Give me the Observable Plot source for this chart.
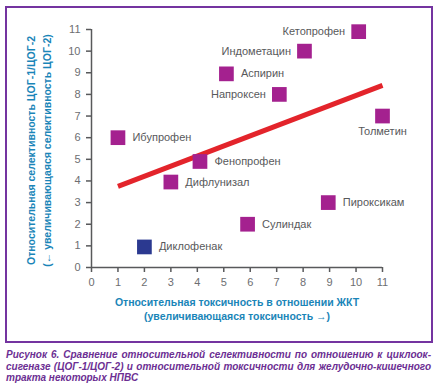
<!DOCTYPE html>
<html>
<head>
<meta charset="utf-8">
<script src="https://cdn.jsdelivr.net/npm/d3@7"></script>
<script src="https://cdn.jsdelivr.net/npm/@observablehq/plot@0.6"></script>
<style>
  html, body { margin: 0; padding: 0; background: #fff; }
  body { position: relative; width: 438px; height: 389px; overflow: hidden; font-family: "Liberation Sans", Arial, sans-serif; }
  #chart { position: absolute; left: 0; top: 0; }
  #frame { position: absolute; left: 5px; top: 6px; width: 424px; height: 333px; border: 2px solid #7434a0; pointer-events: none; }
  #caption { position: absolute; left: 6px; top: 349px; width: 425px; color: #6c2f93; font-weight: bold; font-style: italic; font-size: 10px; line-height: 11.7px; }
  #caption div { white-space: nowrap; }
  #caption .j { text-align: justify; text-align-last: justify; white-space: normal; }
</style>
</head>
<body>
<div id="chart"></div>
<div id="frame"></div>
<div id="caption">
  <div class="j">Рисунок 6. Сравнение относительной селективности по отношению к циклоок-</div>
  <div class="j">сигеназе (ЦОГ-1/ЦОГ-2) и относительной токсичности для желудочно-кишечного</div>
  <div>тракта некоторых НПВС</div>
</div>
<script>
const names = ["Кетопрофен","Индометацин","Аспирин","Напроксен","Толметин","Ибупрофен","Фенопрофен","Дифлунизал","Диклофенак","Сулиндак","Пироксикам"];
const giToxicity = [10.1, 8.05, 5.1, 7.1, 11, 1, 4.1, 3, 2, 5.9, 8.95];
const coxSelectivity = [10.9, 10, 8.95, 8, 7, 6, 4.9, 3.95, 0.95, 2, 3];
const trendX = [1, 11];
const trendY = [3.75, 8.42];
const xTicks = [0,1,2,3,4,5,6,7,8,9,10,11];
const yTicks = [0,1,2,3,4,5,6,7,8,9,10,11];
const xTitle = ["Относительная токсичность в отношении ЖКТ", "(увеличивающаяся токсичность →)"];
const yTitle = ["Относительная селективность ЦОГ-1/ЦОГ-2", "(← увеличивающаяся селективность ЦОГ-2)"];

const data = names.map((n, i) => ({name: n, x: giToxicity[i], y: coxSelectivity[i]}));
const trend = trendX.map((x, i) => ({x, y: trendY[i]}));

const leftLabels = new Set(["Кетопрофен","Индометацин","Напроксен"]);
const belowLabels = new Set(["Толметин"]);

const purple = "#a4218f", blue = "#2b3990", axisGray = "#58595b", textGray = "#58595b", titleBlue = "#1a85b8";

const chart = Plot.plot({
  width: 438, height: 345,
  marginLeft: 91, marginRight: 56, marginTop: 29, marginBottom: 78,
  x: {domain: [0, 11]},
  y: {domain: [0, 11]},
  style: {fontFamily: "'Liberation Sans', Arial, sans-serif", background: "transparent", overflow: "visible"},
  marks: [
    Plot.axisX({ticks: xTicks, tickSize: 5, tickPadding: 6, fontSize: 11, stroke: axisGray, fill: "#6d6e71", strokeWidth: 1.5, label: null}),
    Plot.axisY({ticks: yTicks, tickSize: 5, tickPadding: 6, fontSize: 11, stroke: axisGray, fill: "#6d6e71", strokeWidth: 1.5, label: null}),
    Plot.ruleY([0], {stroke: axisGray, strokeWidth: 1.5}),
    Plot.ruleX([0], {stroke: axisGray, strokeWidth: 1.5}),
    Plot.line(trend, {x: "x", y: "y", stroke: "#e3242b", strokeWidth: 5, strokeLinecap: "butt"}),
    Plot.dot(data, {x: "x", y: "y", symbol: "square", r: 8.3, fill: d => d.name === "Диклофенак" ? blue : purple, stroke: null}),
    Plot.text(data.filter(d => !leftLabels.has(d.name) && !belowLabels.has(d.name)), {x: "x", y: "y", text: "name", textAnchor: "start", dx: 14.5, fontSize: 11, fill: textGray}),
    Plot.text(data.filter(d => leftLabels.has(d.name)), {x: "x", y: "y", text: "name", textAnchor: "end", dx: -13.5, fontSize: 11, fill: textGray}),
    Plot.text(data.filter(d => belowLabels.has(d.name)), {x: "x", y: "y", text: "name", textAnchor: "middle", dy: 15.5, fontSize: 11, fill: textGray}),
    Plot.text([xTitle[0]], {text: d => d, frameAnchor: "bottom", dy: 38, fontSize: 10.5, fontWeight: "bold", fill: titleBlue}),
    Plot.text([xTitle[1]], {text: d => d, frameAnchor: "bottom", dy: 52, fontSize: 10.5, fontWeight: "bold", fill: titleBlue}),
    Plot.text([yTitle[0]], {text: d => d, frameAnchor: "left", textAnchor: "middle", dx: -60, dy: 2, rotate: -90, fontSize: 10.5, fontWeight: "bold", fill: titleBlue}),
    Plot.text([yTitle[1]], {text: d => d, frameAnchor: "left", textAnchor: "middle", dx: -44, dy: 2, rotate: -90, fontSize: 10.5, fontWeight: "bold", fill: titleBlue})
  ]
});
document.getElementById("chart").appendChild(chart);
</script>
</body>
</html>
